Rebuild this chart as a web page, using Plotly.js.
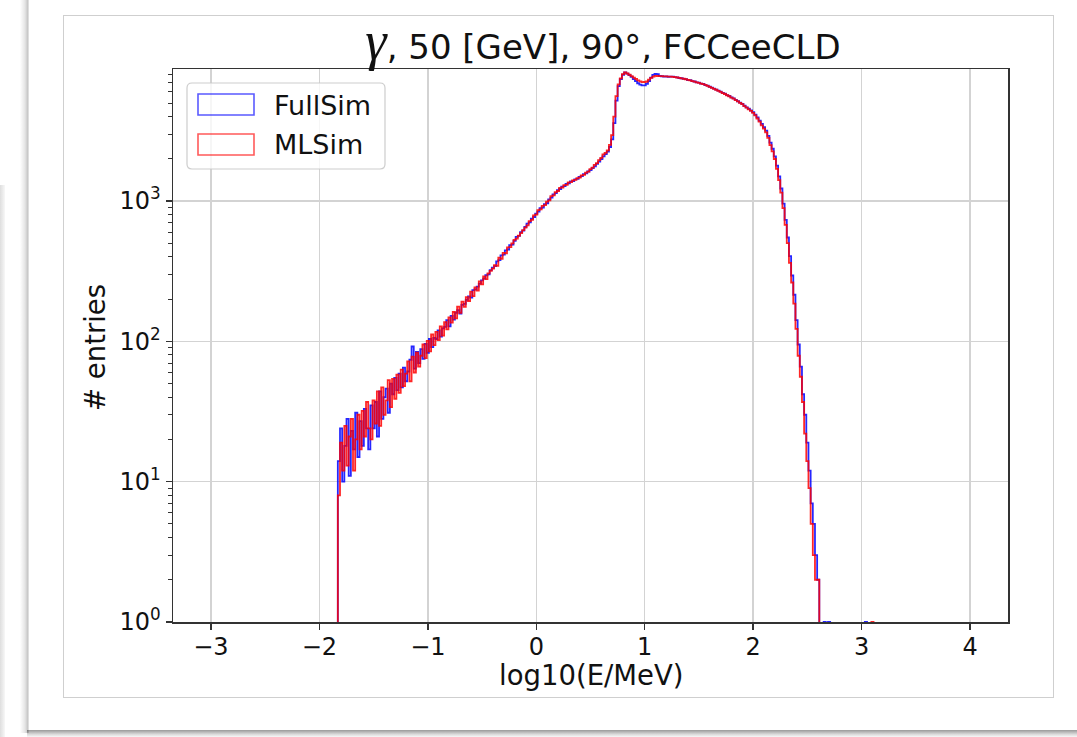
<!DOCTYPE html>
<html><head><meta charset="utf-8">
<script src="https://cdn.plot.ly/plotly-3.0.1.min.js"></script>
<style>
html,body{margin:0;padding:0;background:#fff;width:1077px;height:737px;overflow:hidden;position:relative}
#lshadow{position:absolute;left:20px;top:0;width:9px;height:733px;background:linear-gradient(to right, rgba(0,0,0,0), rgba(0,0,0,0.10) 55%, rgba(0,0,0,0.22) 85%, rgba(0,0,0,0.08));}
#bshadow{position:absolute;left:27px;top:730px;width:1050px;height:7px;background:linear-gradient(to bottom, rgba(0,0,0,0.40), rgba(0,0,0,0.15) 60%, rgba(0,0,0,0.03));}
#lstrip{position:absolute;left:0;top:185px;width:5px;height:552px;background:linear-gradient(to right, rgba(0,0,0,0.13), rgba(0,0,0,0.03));}
#fig{position:absolute;left:63px;top:15px;width:991px;height:683px;border:1px solid #cfcfcf;box-sizing:border-box;background:#fff}
#chart{position:absolute;left:0;top:0;width:1077px;height:737px;}
</style>
</head><body>
<div id="lshadow"></div><div id="lstrip"></div><div id="bshadow"></div><div id="fig"></div>
<div id="chart"></div>
<script>
// Histogram binning (left edge of first bin and bin width, log10(E/MeV))
const binStart = -1.83;
const binWidth = 0.02;

// FullSim counts per bin
const fullSim = [
 14,24,10,18,28,11,23,17,31,15,
 27,18,33,24,17,35,24,37,21,44,28,40,46,31,50,
 42,55,45,59,47,65,52,61,74,92,64,84,70,88,75,96,83,104,91,106,
 104,120,108,124,127,142,128,152,143,160,167,158,182,185,198,209,205,232,235,246,
 258,272,280,296,300,322,335,344,372,380,410,415,445,452,485,490,520,555,565,600,615,655,690,705,750,770,815,
 840,890,900,952,965,1030,1060,1115,1138,1195,1220,1268,1280,1325,1340,1382,1390,1430,1440,1488,1505,1555,1575,1625,1660,1720,1770,1840,1910,1990,2080,2160,
 2250,2430,2750,3600,5200,6600,7400,7950,8250,
 8100,7900,7674,7413,7161,6918,6761,6683,6683,6839,7161,7586,7943,8054,8017,7816,7760,7720,7750,7690,7700,7710,7640,7620,7540,7510,7430,7400,7290,7270,7160,7120,7010,6980,6870,6840,6700,6660,6530,6440,6330,6240,6120,6030,5900,5830,5700,5610,5490,5400,5270,5150,5030,4930,4780,4660,4550,4430,4310,4130,3950,3750,3550,3360,3180,2920,2610,
 2360,2080,1790,1500,1230,960,735,550,405,295,215,142,95,66,42,30,19,12,7,5,3,2,
 0,0,1,0,1,0,0,0,0,0,0,0,0,0,0,0,0,0,0,0,0,1,0,0,0,0
];

// MLSim counts per bin
const mlSim = [
 8,19,12,25,13,21,28,12,20,30,
 17,32,21,37,24,20,38,26,44,25,47,30,38,53,34,
 54,39,58,43,63,48,59,72,52,78,60,83,66,79,95,76,101,85,112,94,
 117,102,128,110,137,122,148,136,162,146,177,160,192,176,207,194,226,210,243,230,
 268,255,290,278,305,318,330,350,345,395,388,428,425,468,470,500,530,540,568,592,620,648,672,720,735,790,800,
 862,874,925,935,990,1012,1085,1098,1160,1180,1242,1250,1300,1306,1360,1365,1405,1415,1455,1470,1525,1540,1595,1620,1690,1730,1810,1865,1960,2035,2150,2210,
 2300,2520,2950,4000,5600,6800,7500,8035,8279,
 8120,7950,7770,7580,7420,7250,7130,7040,7060,7120,7330,7560,7720,7800,7790,7785,7770,7740,7735,7700,7715,7690,7660,7600,7560,7490,7450,7385,7300,7250,7170,7100,7025,6955,6880,6810,6725,6630,6510,6415,6300,6215,6100,6005,5880,5800,5680,5590,5465,5375,5240,5135,5005,4905,4750,4630,4510,4400,4260,4080,3880,3680,3460,3280,3085,2820,2505,
 2265,1995,1698,1413,1148,891,676,501,363,263,186,123,79,56,37,22,14,9,5,3,2,2,
 0,0,0,0,0,0,0,0,0,0,0,0,0,0,0,0,0,0,0,0,0,0,0,0,1,0
];

const xTickVals = [-3,-2,-1,0,1,2,3,4];
const xTickText = ['\u22123','\u22122','\u22121','0','1','2','3','4'];
const yTickVals = [1,10,100,1000];
const yTickText = ['10<sup>0</sup>','10<sup>1</sup>','10<sup>2</sup>','10<sup>3</sup>'];
const yMinorVals = [];
[1,10,100,1000].forEach(d=>{for(let k=2;k<=9;k++) yMinorVals.push(k*d);});

const seriesNames = ['FullSim','MLSim'];
const seriesColors = ['rgba(0,0,255,0.85)','rgba(255,0,0,0.85)'];
const legendColors = ['rgba(0,0,255,0.65)','rgba(255,0,0,0.65)'];

function stepTrace(counts, color, name){
  const floor = 1e-3;
  const xs=[binStart], ys=[floor];
  counts.forEach((c,i)=>{ xs.push(binStart+i*binWidth); ys.push(c>0?c:floor); });
  const xEnd = binStart+counts.length*binWidth;
  const last = counts[counts.length-1];
  xs.push(xEnd); ys.push(last>0?last:floor);
  xs.push(xEnd); ys.push(floor);
  return {type:'scatter', mode:'lines', x:xs, y:ys, name:name,
          line:{shape:'hv', color:color, width:1.8}, showlegend:false, hoverinfo:'skip'};
}

// plot-area geometry helpers for the hand-made legend
const L=173, R=1008, T=69, B=622;
const px = v => (v-L)/(R-L);
const py = v => (B-v)/(B-T);
function roundRect(x0,y0,x1,y1,r){
  const rx=r/(R-L), ry=r/(B-T);
  const X0=px(x0), X1=px(x1), Y0=py(y1), Y1=py(y0);
  return `M${X0+rx},${Y0} L${X1-rx},${Y0} Q${X1},${Y0} ${X1},${Y0+ry} L${X1},${Y1-ry} Q${X1},${Y1} ${X1-rx},${Y1} L${X0+rx},${Y1} Q${X0},${Y1} ${X0},${Y1-ry} L${X0},${Y0+ry} Q${X0},${Y0} ${X0+rx},${Y0} Z`;
}

const shapes = [
  {type:'path', xref:'paper', yref:'paper', path:roundRect(187,83,385,169,5),
   line:{color:'rgba(200,200,200,0.9)', width:1.2}, fillcolor:'rgba(255,255,255,0.8)', layer:'above'},
  {type:'rect', xref:'paper', yref:'paper', x0:px(198), x1:px(254), y0:py(115), y1:py(94),
   line:{color:legendColors[0], width:1.6}, fillcolor:'rgba(0,0,0,0)', layer:'above'},
  {type:'rect', xref:'paper', yref:'paper', x0:px(198), x1:px(254), y0:py(155), y1:py(134),
   line:{color:legendColors[1], width:1.6}, fillcolor:'rgba(0,0,0,0)', layer:'above'}
];

const annotations = [
  {text:seriesNames[0], xref:'paper', yref:'paper', x:px(272), y:py(105), xanchor:'left', yanchor:'middle', showarrow:false, font:{size:27, color:'#111'}},
  {text:seriesNames[1], xref:'paper', yref:'paper', x:px(272), y:py(144), xanchor:'left', yanchor:'middle', showarrow:false, font:{size:27, color:'#111'}},
  {text:'log10(E/MeV)', xref:'paper', yref:'paper', x:px(591), y:py(675), xanchor:'center', yanchor:'middle', showarrow:false, font:{size:27.5, color:'#111'}},
  {text:'# entries', xref:'paper', yref:'paper', x:px(95), y:py(348), xanchor:'center', yanchor:'middle', textangle:-90, showarrow:false, font:{size:27.5, color:'#111'}}
];

const layout = {
  width:1077, height:737,
  margin:{l:L, r:1077-R, t:T, b:737-B, pad:0},
  paper_bgcolor:'rgba(0,0,0,0)', plot_bgcolor:'#fff',
  font:{family:'DejaVu Sans', color:'#111'},
  title:{text:'<span style="font-family:Liberation Serif;font-size:54px;font-style:italic">\u03b3</span>, 50 [GeV], 90\u00b0, FCCeeCLD',
         font:{size:34, color:'#111'}, x:px(603), xref:'paper', xanchor:'center', y:1-47/737, yref:'container', yanchor:'middle'},
  xaxis:{range:[-3.35,4.35], tickmode:'array', tickvals:xTickVals, ticktext:xTickText,
         ticks:'outside', ticklen:6, tickwidth:1.4, tickcolor:'#333', ticklabelstandoff:-3,
         showgrid:true, gridcolor:'#d3d3d3', gridwidth:1.5, zeroline:false,
         showline:true, linecolor:'#333', linewidth:1.5, mirror:true,
         tickfont:{size:24, color:'#111'}},
  yaxis:{type:'log', range:[0,3.9415], tickmode:'array', tickvals:yTickVals, ticktext:yTickText,
         ticks:'outside', ticklen:6, tickwidth:1.4, tickcolor:'#333',
         minor:{tickmode:'array', tickvals:yMinorVals, ticks:'outside', ticklen:3.5, tickwidth:1, tickcolor:'#333', showgrid:false},
         showgrid:true, gridcolor:'#d3d3d3', gridwidth:1.5, zeroline:false,
         showline:true, linecolor:'#333', linewidth:1.5, mirror:true,
         tickfont:{size:24, color:'#111'}},
  shapes:shapes, annotations:annotations, showlegend:false
};

Plotly.newPlot('chart', [stepTrace(fullSim, seriesColors[0], seriesNames[0]), stepTrace(mlSim, seriesColors[1], seriesNames[1])], layout, {staticPlot:true, displayModeBar:false});
</script>
</body></html>
